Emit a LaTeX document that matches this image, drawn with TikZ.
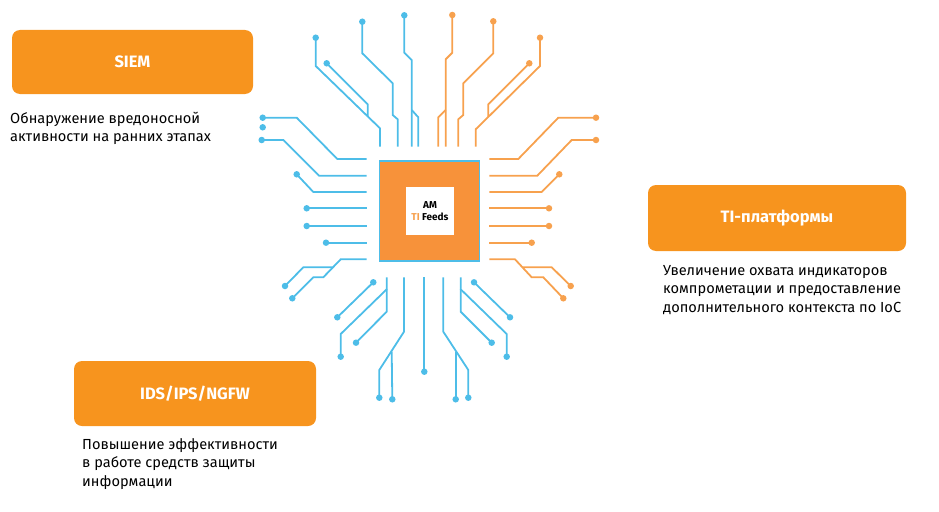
\documentclass[tikz,border=0pt]{standalone}
\usepackage{fontspec}
\setmainfont{Fira Sans}
\begin{document}
\begin{tikzpicture}[x=1pt,y=-1pt,
 bl/.style={draw=cblue,line width=1.8pt},
 or/.style={draw=corng,line width=1.8pt},
 bd/.style={fill=cblue,circle,inner sep=0,minimum size=6.5pt},
 od/.style={fill=corng,circle,inner sep=0,minimum size=6.5pt},
 box/.style={fill=cbox,rounded corners=8pt,inner sep=0,text=white,font=\fontsize{16.5}{18}\selectfont\bfseries},
 desc/.style={anchor=north west,align=left,inner sep=0,font=\fontsize{14.6}{18.5}\selectfont}]
\definecolor{cblue}{HTML}{4DBDE8}
\definecolor{corng}{HTML}{F7A14E}
\definecolor{cbox}{HTML}{F7941E}
\definecolor{cchip}{HTML}{F7923A}
\useasboundingbox (0,0) rectangle (939,511);
% boxes
\node[box,minimum width=241pt,minimum height=64pt] (siem) at (132.5,62) {SIEM};
\node[desc] (siemd) at (10,112) {Обнаружение вредоносной\\активности на ранних этапах};
\node[box,minimum width=258pt,minimum height=66pt] (ti) at (777,218) {TI-платформы};
\node[desc] (tid) at (663,265) {Увеличение охвата индикаторов\\компрометации и предоставление\\дополнительного контекста по IoC};
\node[box,minimum width=242pt,minimum height=65pt] (ids) at (195,393.5) {IDS/IPS/NGFW};
\node[desc] (idsd) at (82,438) {Повышение эффективности\\в работе средств защиты\\информации};
% chip
\node[draw=cblue,fill=cchip,line width=1.8pt,minimum size=100pt,inner sep=0] (chip) at (429.5,211) {};
\node[fill=white,minimum width=48pt,minimum height=48pt,inner sep=0,align=center,font=\fontsize{10}{11.5}\selectfont\bfseries] (logo) at (430,211) {AM\\\textcolor{corng}{TI} Feeds};
% top
\node[bd] (t1) at (315.7,37.7) {}; \draw[bl] (t1.center) -- (315.7,66) -- (380,128.3) -- (380,146.7);
\node[bd] (t2) at (326.7,63.3) {}; \draw[bl] (t2.center) -- (367.7,104.3) -- (367.7,116.7);
\node[bd] (t3) at (362.3,21.7) {}; \draw[bl] (t3.center) -- (362.3,53.3) -- (392.7,83.3) -- (392.7,115) -- (397.7,119.3) -- (397.7,146.7);
\node[bd] (t4) at (404.3,15.3) {}; \draw[bl] (t4.center) -- (404.3,52.7) -- (411.7,60) -- (411.7,146.7);
\draw[bl] (411.7,110) -- (418.3,117.3) -- (418.3,146.7);
\node[od] (t5) at (452.3,15) {}; \draw[or] (t5.center) -- (452.3,52.7) -- (445.7,59.3) -- (445.7,146.7);
\draw[or] (445.7,110) -- (438.3,117.3) -- (438.3,146.7);
\node[od] (t6) at (493.3,21.3) {}; \draw[or] (t6.center) -- (493.3,53.3) -- (463.3,83.3) -- (463.3,115) -- (458.3,119.3) -- (458.3,146.7);
\node[od] (t7) at (540,37.7) {}; \draw[or] (t7.center) -- (540,66) -- (475.7,129.3) -- (475.7,146.7);
\node[od] (t8) at (529.3,63.3) {}; \draw[or] (t8.center) -- (488.3,104.3) -- (488.3,116.7);
% left
\node[bd] (l1) at (262.7,117.7) {}; \draw[bl] (l1.center) -- (296.7,117.7) -- (337.3,159) -- (366.7,159);
\node[bd] (l2) at (262.7,127.3) {};
\node[bd] (l3) at (261.7,140) {}; \draw[bl] (l3.center) -- (283.3,140) -- (319,175.7) -- (366.7,175.7);
\node[bd] (l4) at (296.7,174.3) {}; \draw[bl] (l4.center) -- (313.3,192) -- (366.7,192);
\node[bd] (l5) at (306.7,208.3) {}; \draw[bl] (l5.center) -- (366.7,208.3);
\node[bd] (l6) at (306.7,226) {}; \draw[bl] (l6.center) -- (366.7,226);
\node[bd] (l7) at (326,242.7) {}; \draw[bl] (l7.center) -- (366.7,242.7);
\node[bd] (l8) at (292.3,298.3) {}; \draw[bl] (l8.center) -- (313.3,277.3) -- (323.3,277.3) -- (340.7,259.3) -- (366.7,259.3);
\node[bd] (l9) at (285,286) {}; \draw[bl] (l9.center) -- (303.3,267.3) -- (332.7,267.3);
% right
\node[od] (r1) at (596,117.7) {}; \draw[or] (r1.center) -- (558.3,117.7) -- (518.3,159) -- (489.3,159);
\node[od] (r2) at (596,140) {}; \draw[or] (r2.center) -- (571.7,140) -- (537.3,175.7) -- (489.3,175.7);
\node[od] (r3) at (559.3,174.3) {}; \draw[or] (r3.center) -- (541.7,192) -- (489.3,192);
\node[od] (r4) at (549,208.3) {}; \draw[or] (r4.center) -- (489.3,208.3);
\node[od] (r5) at (549,226) {}; \draw[or] (r5.center) -- (489.3,226);
\node[od] (r6) at (531.7,242.7) {}; \draw[or] (r6.center) -- (489.3,242.7);
\node[od] (r7) at (563.3,298.3) {}; \draw[or] (r7.center) -- (543.3,277.3) -- (531.7,277.3) -- (515,259.3) -- (489.3,259.3);
\node[od] (r8) at (570.7,286) {}; \draw[or] (r8.center) -- (551.7,267.3) -- (522.4,267.3);
% bottom
\node[bd] (b1) at (373.3,282.3) {}; \node[bd] (b1e) at (337.3,317.3) {}; \draw[bl] (b1.center) -- (b1e.center);
\node[bd] (b2) at (340.7,356.7) {}; \draw[bl] (386.7,277.3) -- (386.7,289.3) -- (340.7,334) -- (b2.center);
\node[bd] (b3) at (356,342.7) {}; \draw[bl] (386.7,289.3) -- (386.7,311.7) -- (b3.center);
\node[bd] (b4) at (379.3,397.7) {}; \draw[bl] (404,277.3) -- (404,331.7) -- (379.3,370) -- (b4.center);
\node[bd] (b4b) at (392.3,399.3) {}; \draw[bl] (391.7,351.7) -- (b4b.center);
\node[bd] (b5) at (424.3,371.7) {}; \draw[bl] (424.3,277.3) -- (b5.center);
\node[bd] (b6) at (468.3,397.7) {}; \draw[bl] (443.3,277.3) -- (443.3,331.7) -- (468.3,370) -- (b6.center);
\node[bd] (b6b) at (455.7,399.3) {}; \draw[bl] (455.7,351.7) -- (b6b.center);
\node[bd] (b7) at (506.7,356.7) {}; \draw[bl] (460.7,277.3) -- (460.7,289.3) -- (506.7,334) -- (b7.center);
\node[bd] (b7b) at (491.7,342.7) {}; \draw[bl] (460.7,289.3) -- (460.7,311.7) -- (b7b.center);
\node[bd] (b8) at (474,282.3) {}; \node[bd] (b8e) at (510,317.3) {}; \draw[bl] (b8.center) -- (b8e.center);
\end{tikzpicture}
\end{document}
